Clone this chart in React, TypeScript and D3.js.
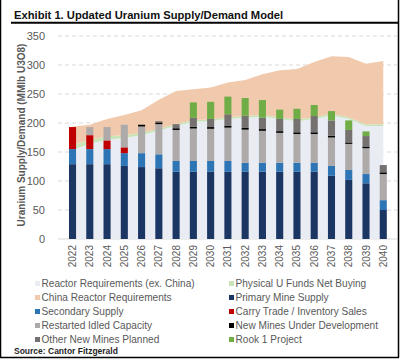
import React from "react";
import * as d3 from "d3";

const years = ["2022", "2023", "2024", "2025", "2026", "2027", "2028", "2029", "2030", "2031", "2032", "2033", "2034", "2035", "2036", "2037", "2038", "2039", "2040"];

// demand (stacked areas)
const reactorExChina = [154, 164, 171, 174, 179, 187, 195, 202, 203, 207, 209, 211, 207, 203, 207, 213, 207, 195, 195];
const physicalFunds = [7, 7, 6, 5, 4, 3, 3, 3, 3, 3, 3, 3, 3, 3, 3, 3, 3, 3, 3];
const chinaReactor = [33, 26, 30, 35, 39, 50, 57, 53, 55, 60, 62, 70, 81, 87, 95, 99, 104, 104, 109];

// supply (stacked bars)
const primaryMine = [129, 129, 129, 126, 124, 122, 116, 116, 116, 116, 116, 116, 116, 116, 116, 109, 102, 96, 50];
const secondarySupply = [26, 26, 26, 22, 24, 24, 18.5, 18.5, 18.5, 18.5, 15.5, 15.5, 15.5, 15.5, 15.5, 17, 17, 16, 17];
const carryTrade = [38, 24, 15, 10, 0, 0, 0, 0, 0, 0, 0, 0, 0, 0, 0, 0, 0, 0, 0];
const restartedIdled = [0, 14, 23, 39, 46, 52, 53.5, 56, 55.5, 57.5, 57, 55, 51.5, 49.5, 49.5, 49, 45, 44.5, 45];
const newMinesDev = [0, 0, 0, 0, 3, 3, 3, 3, 3, 3, 3, 3, 3, 3, 3, 3, 2.5, 3, 3];
const otherNewMines = [0, 0, 0, 0, 0, 2, 7, 15.5, 14, 20, 21, 19.5, 21, 23, 28, 26.5, 21.5, 18, 12.5];
const rook1 = [0, 0, 0, 0, 0, 0, 0, 26.5, 29.5, 30.5, 30.5, 30.5, 16, 17.5, 19, 16, 16.5, 8, 0];

const yTicks = [0, 50, 100, 150, 200, 250, 300, 350];

const areaSeries = [
  { name: "Reactor Requirements (ex. China)", values: reactorExChina, color: "#e9ecf3" },
  { name: "Physical U Funds Net Buying", values: physicalFunds, color: "#c9e4b8" },
  { name: "China Reactor Requirements", values: chinaReactor, color: "#f1caae" },
];
const barSeries = [
  { name: "Primary Mine Supply", values: primaryMine, color: "#1c3664" },
  { name: "Secondary Supply", values: secondarySupply, color: "#2e75b6" },
  { name: "Carry Trade / Inventory Sales", values: carryTrade, color: "#c00000" },
  { name: "Restarted Idled Capacity", values: restartedIdled, color: "#aeaaaa" },
  { name: "New Mines Under Development", values: newMinesDev, color: "#000000" },
  { name: "Other New Mines Planned", values: otherNewMines, color: "#767171" },
  { name: "Rook 1 Project", values: rook1, color: "#70ad47" },
];

const legendLeft = ["Reactor Requirements (ex. China)", "China Reactor Requirements", "Secondary Supply", "Restarted Idled Capacity", "Other New Mines Planned"];
const legendRight = ["Physical U Funds Net Buying", "Primary Mine Supply", "Carry Trade / Inventory Sales", "New Mines Under Development", "Rook 1 Project"];

const W = 400, H = 360;

export default function App() {
  const x = d3.scaleBand().domain(years).range([58.8, 397]).padding(0.59);
  const y = d3.scaleLinear().domain([0, 350]).range([239, 36]);
  const cx = (yr: string) => (x(yr) as number) + x.bandwidth() / 2;

  const areaStack = d3.stack<number>()
    .keys(areaSeries.map((_, i) => String(i)))
    .value((i, k) => areaSeries[+k].values[i])(years.map((_, i) => i));
  const area = d3.area<d3.SeriesPoint<number>>()
    .x((d) => cx(years[d.data]))
    .y0((d) => y(d[0]))
    .y1((d) => y(d[1]));

  const barStack = d3.stack<number>()
    .keys(barSeries.map((_, i) => String(i)))
    .value((i, k) => barSeries[+k].values[i])(years.map((_, i) => i));

  const colorOf = (name: string) =>
    [...areaSeries, ...barSeries].find((s) => s.name === name)!.color;

  const font = "Arial, 'Liberation Sans', sans-serif";

  return (
    <svg width={W} height={H} style={{ position: "absolute", left: 0, top: 0, background: "#fff" }} fontFamily={font}>
      <rect x={0} y={0} width={W} height={H} fill="#fff" />
      {/* frame */}
      <line x1={0.5} x2={0.5} y1={0} y2={357.5} stroke="#000" strokeWidth={1.5} />
      <line x1={398.5} x2={398.5} y1={0} y2={357.5} stroke="#000" strokeWidth={1.5} />
      <line x1={0} x2={399} y1={357.5} y2={357.5} stroke="#000" strokeWidth={1.5} />

      <text x={14} y={18.5} fontSize={11.2} fontWeight="bold" fill="#111">
        Exhibit 1. Updated Uranium Supply/Demand Model
      </text>
      <line x1={11} x2={399} y1={22.8} y2={22.8} stroke="#000" strokeWidth={2} />

      {/* grid */}
      {yTicks.map((t) => (
        <g key={t}>
          <line x1={58} x2={397} y1={y(t)} y2={y(t)} stroke="#d9d9d9" strokeWidth={1}
            strokeDasharray={t === 0 ? undefined : "4,3"} />
          <text x={45} y={y(t)} dy="0.35em" textAnchor="end" fontSize={11} fill="#595959">{t}</text>
        </g>
      ))}

      {/* areas */}
      {areaStack.map((s, i) => (
        <path key={i} d={area(s) || ""} fill={areaSeries[i].color} />
      ))}

      {/* bars */}
      {barStack.map((s, i) => (
        <g key={i} fill={barSeries[i].color}>
          {s.map((d, j) => d[1] - d[0] > 0 ? (
            <rect key={j} x={x(years[j])} width={x.bandwidth()} y={y(d[1])} height={y(d[0]) - y(d[1])} />
          ) : null)}
        </g>
      ))}

      {/* x labels */}
      {years.map((yr) => (
        <text key={yr} transform={`translate(${cx(yr) + 3.5},245) rotate(-90)`} textAnchor="end" fontSize={10} fill="#595959">{yr}</text>
      ))}

      <text transform="translate(25,135) rotate(-90)" textAnchor="middle" fontSize={10} fontWeight="bold" fill="#595959">
        Uranium Supply/Demand (MMlb U3O8)
      </text>

      {/* legend */}
      {[legendLeft, legendRight].map((col, ci) => col.map((name, ri) => {
        const lx = ci === 0 ? 35 : 229;
        const ly = 283.5 + ri * 14;
        return (
          <g key={name}>
            <rect x={lx} y={ly - 2.5} width={5} height={5} fill={colorOf(name)} />
            <text x={lx + 6.5} y={ly} dy="0.35em" fontSize={10.1} fill="#595959">{name}</text>
          </g>
        );
      }))}

      <text x={14} y={354} fontSize={8.5} fontWeight="bold" fill="#1f1f1f">Source: Cantor Fitzgerald</text>
    </svg>
  );
}
